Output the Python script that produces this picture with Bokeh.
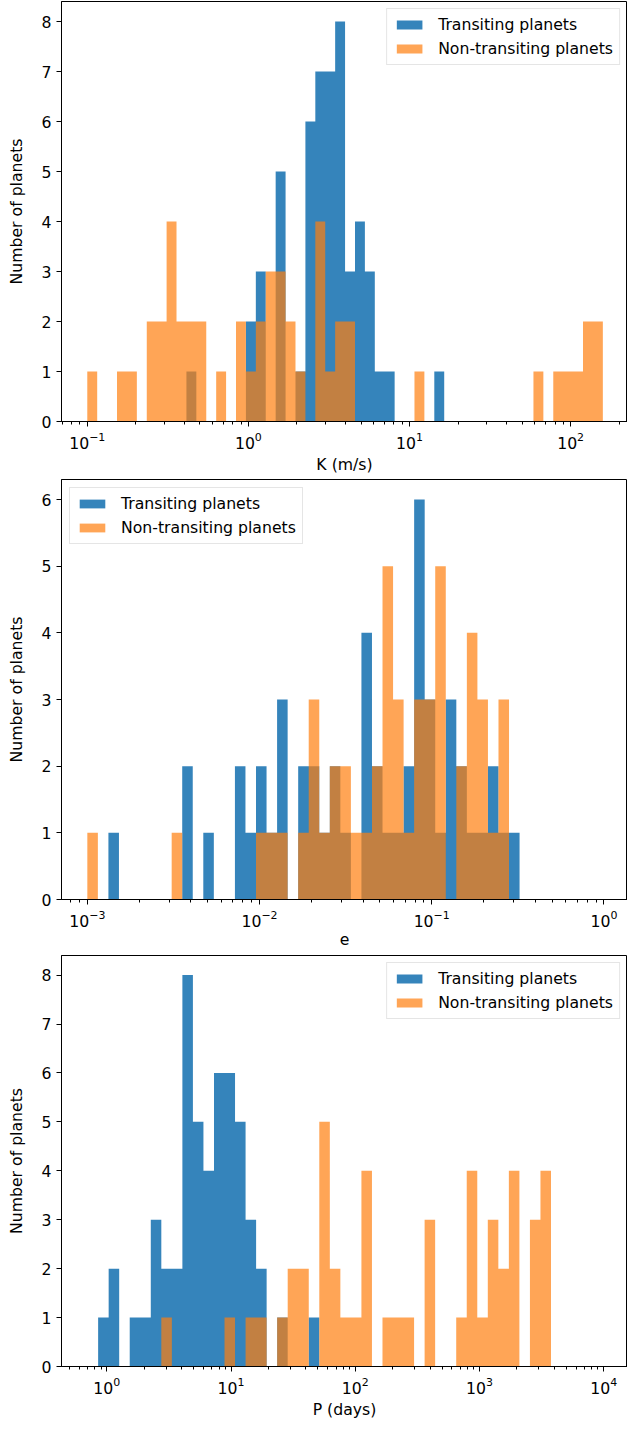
import numpy as np
from bokeh.plotting import figure
from bokeh.layouts import column
from bokeh.models import Range1d, FixedTicker, Legend, LegendItem
from bokeh.embed import file_html
from bokeh.resources import INLINE

# ---------------- data (counts per logarithmic bin) ----------------
# Panel 1: semi-amplitude K (m/s); bins: log10 edges from -1.0 to 2.2, 52 bins
K_LOG_LO, K_LOG_HI, K_NBINS = -1.0, 2.2, 52
K_transiting = [0, 0, 0, 0, 0, 0, 0, 0, 0, 0,
                1, 0, 0, 0, 0, 0, 2, 3, 0, 5,
                0, 1, 6, 7, 7, 8, 3, 4, 3, 1,
                1, 0, 0, 0, 0, 1, 0, 0, 0, 0,
                0, 0, 0, 0, 0, 0, 0, 0, 0, 0,
                0, 0]
K_nontransiting = [1, 0, 0, 1, 1, 0, 2, 2, 4, 2,
                   2, 2, 0, 1, 0, 2, 1, 2, 3, 3,
                   2, 1, 0, 4, 1, 2, 2, 0, 0, 0,
                   0, 0, 0, 1, 0, 0, 0, 0, 0, 0,
                   0, 0, 0, 0, 0, 1, 0, 1, 1, 1,
                   2, 2]

# Panel 2: eccentricity e; bins: log10 edges from -3 to 0, 49 bins
E_LOG_LO, E_LOG_HI, E_NBINS = -3.0, 0.0, 49
e_transiting = [0, 0, 1, 0, 0, 0, 0, 0, 0, 2,
                0, 1, 0, 0, 2, 1, 2, 1, 3, 0,
                2, 2, 1, 2, 1, 0, 4, 2, 1, 1,
                2, 6, 3, 1, 3, 2, 1, 1, 2, 1,
                1, 0, 0, 0, 0, 0, 0, 0, 0]
e_nontransiting = [1, 0, 0, 0, 0, 0, 0, 0, 1, 0,
                   0, 0, 0, 0, 0, 0, 1, 1, 1, 0,
                   1, 3, 1, 2, 2, 1, 1, 2, 5, 3,
                   1, 3, 3, 5, 0, 2, 4, 3, 1, 3,
                   0, 0, 0, 0, 0, 0, 0, 0, 0]

# Panel 3: period P (days); bins: log10 edges from log10(0.7) to 4, 49 bins
P_LOG_LO, P_LOG_HI, P_NBINS = np.log10(0.7), 4.0, 49
P_transiting = [0, 1, 2, 0, 1, 1, 3, 2, 2, 8,
                5, 4, 6, 6, 5, 3, 2, 0, 1, 0,
                0, 1, 0, 0, 0, 0, 0, 0, 0, 0,
                0, 0, 0, 0, 0, 0, 0, 0, 0, 0,
                0, 0, 0, 0, 0, 0, 0, 0, 0]
P_nontransiting = [0, 0, 0, 0, 0, 0, 0, 1, 0, 0,
                   0, 0, 0, 1, 0, 1, 1, 0, 1, 2,
                   2, 0, 5, 2, 1, 1, 4, 0, 1, 1,
                   1, 0, 3, 0, 0, 1, 4, 1, 3, 2,
                   4, 0, 3, 4, 0, 0, 0, 0, 0]

LABELS = ["Transiting planets", "Non-transiting planets"]
BLUE = "#1f77b4"
ORANGE = "#ff7f0e"
FONT = "DejaVu Sans"
FS = "15.7px"


def make_panel(log_lo, log_hi, nbins, blue, orange, xlabel, xlog_start, xlog_end,
               ymax, decades, legend_loc, height, border_bottom):
    edges = np.logspace(log_lo, log_hi, nbins + 1)
    p = figure(width=627, height=height, x_axis_type="log",
               x_range=Range1d(10 ** xlog_start, 10 ** xlog_end),
               y_range=Range1d(0, ymax * 1.05),
               output_backend="svg", toolbar_location=None,
               min_border_left=61, min_border_right=0,
               min_border_top=1, min_border_bottom=border_bottom)
    rb = p.varea_step(x=edges, y1=0, y2=list(blue) + [0], step_mode="after",
                      fill_color=BLUE, fill_alpha=0.9)
    ro = p.varea_step(x=edges, y1=0, y2=list(orange) + [0], step_mode="after",
                      fill_color=ORANGE, fill_alpha=0.7)

    majors = [10.0 ** k for k in decades]
    minors = [m * 10.0 ** k for k in range(decades[0] - 1, decades[-1] + 1) for m in range(2, 10)]
    p.xaxis.ticker = FixedTicker(ticks=majors, minor_ticks=minors)
    p.yaxis.ticker = FixedTicker(ticks=list(range(0, ymax + 1)))

    for ax in (p.xaxis[0], p.yaxis[0]):
        ax.axis_line_color = "black"
        ax.major_tick_line_color = "black"
        ax.minor_tick_line_color = "black"
        ax.major_tick_in = 0
        ax.major_tick_out = 5
        ax.minor_tick_in = 0
        ax.minor_tick_out = 3
        ax.major_label_text_font = FONT
        ax.major_label_text_font_size = FS
        ax.major_label_text_color = "black"
        ax.axis_label_text_font = FONT
        ax.axis_label_text_font_size = FS
        ax.axis_label_text_font_style = "normal"
        ax.axis_label_text_color = "black"
        ax.major_label_standoff = 5
    p.yaxis.minor_tick_line_color = None
    p.xaxis.axis_label = xlabel
    p.yaxis.axis_label = "Number of planets"
    p.xaxis.axis_label_standoff = 3
    p.yaxis.axis_label_standoff = 13

    p.xgrid.visible = False
    p.ygrid.visible = False
    p.outline_line_color = "black"
    p.outline_line_width = 1
    p.outline_line_alpha = 1
    p.background_fill_color = "white"
    p.border_fill_color = "white"

    legend = Legend(items=[LegendItem(label=LABELS[0], renderers=[rb]),
                           LegendItem(label=LABELS[1], renderers=[ro])],
                    location=legend_loc,
                    margin=8 if legend_loc == "top_left" else 7,
                    padding=6, spacing=5, label_height=18,
                    glyph_width=32, glyph_height=11, label_standoff=13,
                    label_text_font=FONT, label_text_font_size=FS,
                    label_text_color="black",
                    border_line_color="#cccccc", border_line_width=1,
                    background_fill_color="white", background_fill_alpha=0.8)
    p.add_layout(legend)
    return p


p1 = make_panel(K_LOG_LO, K_LOG_HI, K_NBINS, K_transiting, K_nontransiting,
                "K (m/s)", -1.160, 2.353, 8, [-1, 0, 1, 2], "top_right", 478, 57)
p2 = make_panel(E_LOG_LO, E_LOG_HI, E_NBINS, e_transiting, e_nontransiting,
                "e", -3.15, 0.137, 6, [-3, -2, -1, 0], "top_left", 476, 55)
p3 = make_panel(P_LOG_LO, P_LOG_HI, P_NBINS, P_transiting, P_nontransiting,
                "P (days)", -0.365, 4.192, 8, [0, 1, 2, 3, 4], "top_right", 467, 46)

layout = column(p1, p2, p3, spacing=0)
open("out.html", "w").write(file_html(layout, INLINE))
